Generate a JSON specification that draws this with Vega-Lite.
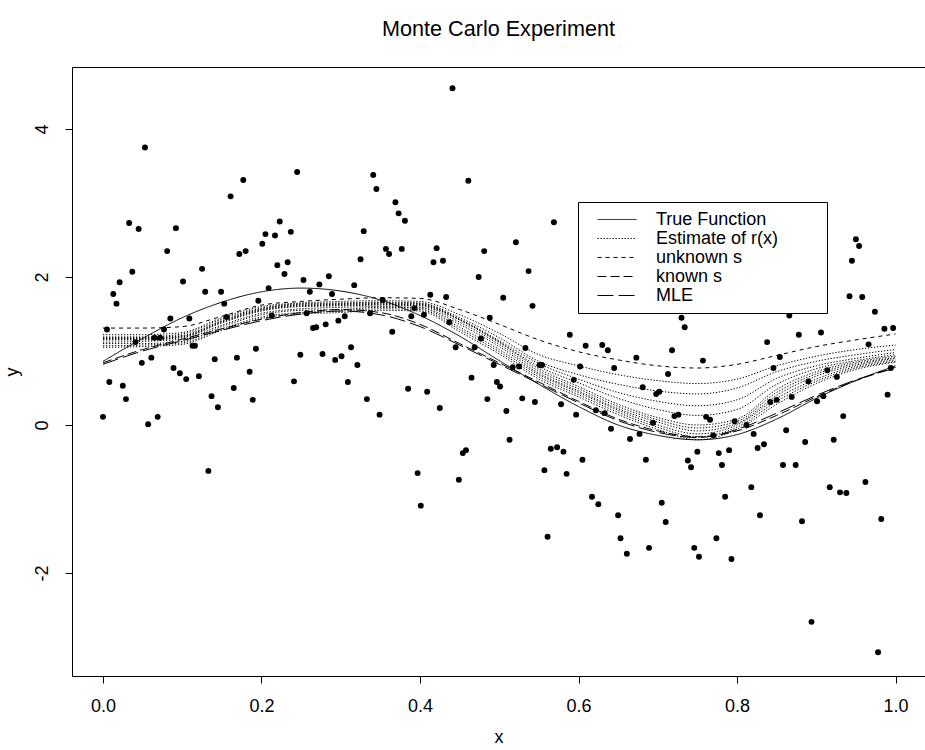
{
"$schema":"https://vega.github.io/schema/vega-lite/v6.json",
"width":853,"height":609,
"autosize":{"type":"none"},
"padding":{"left":72,"top":67,"right":0,"bottom":74},
"background":"white",
"title":{"text":"Monte Carlo Experiment","fontSize":21.6,"fontWeight":"normal","font":"Liberation Sans","color":"black","anchor":"middle","baseline":"alphabetic","offset":9},
"config":{
 "font":"Liberation Sans",
 "view":{"stroke":"black","strokeWidth":1},
 "axis":{"domain":false,"grid":false,"tickSize":7,"tickColor":"black","tickWidth":1,"labelFontSize":18,"labelColor":"black","labelFont":"Liberation Sans","titleFontSize":18,"titleFontWeight":"normal","titleColor":"black","titleFont":"Liberation Sans","labelFlush":false,"labelOverlap":false},
 "legend":{"orient":"none","legendX":506,"legendY":135,"strokeColor":"black","fillColor":"white","padding":8,"labelFontSize":18,"labelFont":"Liberation Sans","labelColor":"black","symbolType":"stroke","symbolSize":1521,"symbolStrokeWidth":1,"symbolStrokeColor":"black","clipHeight":19,"rowPadding":0,"labelOffset":19,"symbolOffset":11,"labelLimit":0}
},
"datasets":{
"lines":[
{"x":0,"tf":0.86,"T":1.31,"us":1.22,"D2":1.19,"D3":1.18,"D4":1.16,"B0":1.17,"B1":1.15,"B2":1.12,"B3":1.10,"B4":1.07,"B5":1.05,"ks":0.84,"mle":0.82},
{"x":0.05,"tf":1.17,"T":1.31,"us":1.22,"D2":1.19,"D3":1.18,"D4":1.16,"B0":1.17,"B1":1.15,"B2":1.13,"B3":1.10,"B4":1.08,"B5":1.06,"ks":1.02,"mle":1.00},
{"x":0.1,"tf":1.45,"T":1.33,"us":1.25,"D2":1.23,"D3":1.21,"D4":1.19,"B0":1.20,"B1":1.18,"B2":1.16,"B3":1.13,"B4":1.11,"B5":1.09,"ks":1.16,"mle":1.14},
{"x":0.15,"tf":1.66,"T":1.47,"us":1.45,"D2":1.43,"D3":1.41,"D4":1.39,"B0":1.40,"B1":1.38,"B2":1.35,"B3":1.33,"B4":1.30,"B5":1.28,"ks":1.30,"mle":1.28},
{"x":0.2,"tf":1.80,"T":1.62,"us":1.60,"D2":1.58,"D3":1.57,"D4":1.55,"B0":1.56,"B1":1.54,"B2":1.51,"B3":1.49,"B4":1.46,"B5":1.44,"ks":1.43,"mle":1.41},
{"x":0.25,"tf":1.85,"T":1.67,"us":1.65,"D2":1.64,"D3":1.63,"D4":1.61,"B0":1.62,"B1":1.60,"B2":1.57,"B3":1.55,"B4":1.52,"B5":1.50,"ks":1.52,"mle":1.50},
{"x":0.3,"tf":1.81,"T":1.70,"us":1.67,"D2":1.65,"D3":1.64,"D4":1.62,"B0":1.63,"B1":1.61,"B2":1.59,"B3":1.56,"B4":1.54,"B5":1.52,"ks":1.56,"mle":1.54},
{"x":0.35,"tf":1.69,"T":1.72,"us":1.68,"D2":1.66,"D3":1.65,"D4":1.63,"B0":1.64,"B1":1.62,"B2":1.60,"B3":1.59,"B4":1.57,"B5":1.55,"ks":1.52,"mle":1.49},
{"x":0.4,"tf":1.48,"T":1.71,"us":1.67,"D2":1.65,"D3":1.64,"D4":1.62,"B0":1.63,"B1":1.61,"B2":1.59,"B3":1.58,"B4":1.56,"B5":1.54,"ks":1.36,"mle":1.33},
{"x":0.45,"tf":1.20,"T":1.56,"us":1.49,"D2":1.45,"D3":1.43,"D4":1.42,"B0":1.42,"B1":1.39,"B2":1.36,"B3":1.32,"B4":1.29,"B5":1.26,"ks":1.10,"mle":1.08},
{"x":0.5,"tf":0.87,"T":1.36,"us":1.24,"D2":1.18,"D3":1.14,"D4":1.12,"B0":1.12,"B1":1.09,"B2":1.06,"B3":1.02,"B4":0.99,"B5":0.96,"ks":0.84,"mle":0.82},
{"x":0.55,"tf":0.55,"T":1.15,"us":0.95,"D2":0.86,"D3":0.83,"D4":0.79,"B0":0.76,"B1":0.73,"B2":0.70,"B3":0.68,"B4":0.65,"B5":0.62,"ks":0.58,"mle":0.56},
{"x":0.6,"tf":0.25,"T":0.99,"us":0.80,"D2":0.68,"D3":0.62,"D4":0.57,"B0":0.52,"B1":0.49,"B2":0.46,"B3":0.44,"B4":0.41,"B5":0.38,"ks":0.32,"mle":0.30},
{"x":0.65,"tf":0.00,"T":0.88,"us":0.68,"D2":0.55,"D3":0.44,"D4":0.36,"B0":0.28,"B1":0.25,"B2":0.22,"B3":0.20,"B4":0.17,"B5":0.14,"ks":0.08,"mle":0.06},
{"x":0.7,"tf":-0.14,"T":0.80,"us":0.60,"D2":0.46,"D3":0.32,"D4":0.21,"B0":0.10,"B1":0.07,"B2":0.04,"B3":0.00,"B4":-0.03,"B5":-0.06,"ks":-0.08,"mle":-0.10},
{"x":0.75,"tf":-0.20,"T":0.77,"us":0.56,"D2":0.42,"D3":0.26,"D4":0.13,"B0":0.00,"B1":-0.04,"B2":-0.08,"B3":-0.12,"B4":-0.16,"B5":-0.20,"ks":-0.16,"mle":-0.17},
{"x":0.8,"tf":-0.13,"T":0.82,"us":0.62,"D2":0.50,"D3":0.34,"D4":0.21,"B0":0.08,"B1":0.05,"B2":0.02,"B3":0.00,"B4":-0.03,"B5":-0.06,"ks":-0.08,"mle":-0.06},
{"x":0.85,"tf":0.08,"T":0.94,"us":0.80,"D2":0.72,"D3":0.63,"D4":0.55,"B0":0.48,"B1":0.44,"B2":0.40,"B3":0.36,"B4":0.32,"B5":0.28,"ks":0.13,"mle":0.16},
{"x":0.9,"tf":0.36,"T":1.06,"us":0.93,"D2":0.86,"D3":0.80,"D4":0.76,"B0":0.72,"B1":0.69,"B2":0.66,"B3":0.62,"B4":0.59,"B5":0.56,"ks":0.38,"mle":0.40},
{"x":0.95,"tf":0.60,"T":1.15,"us":1.02,"D2":0.95,"D3":0.90,"D4":0.87,"B0":0.85,"B1":0.83,"B2":0.81,"B3":0.79,"B4":0.77,"B5":0.75,"ks":0.60,"mle":0.61},
{"x":1,"tf":0.80,"T":1.23,"us":1.08,"D2":1.02,"D3":0.98,"D4":0.95,"B0":0.93,"B1":0.91,"B2":0.90,"B3":0.88,"B4":0.86,"B5":0.85,"ks":0.78,"mle":0.77}
],
"pts":[
{"x":0.053,"y":3.75},{"x":0.177,"y":3.31},{"x":0.161,"y":3.09},{"x":0.033,"y":2.73},{"x":0.045,"y":2.65},{"x":0.092,"y":2.66},{"x":0.223,"y":2.75},{"x":0.205,"y":2.58},{"x":0.217,"y":2.56},{"x":0.201,"y":2.45},{"x":0.081,"y":2.35},{"x":0.172,"y":2.31},{"x":0.180,"y":2.35},{"x":0.220,"y":2.16},{"x":0.037,"y":2.07},{"x":0.125,"y":2.11},{"x":0.021,"y":1.93},{"x":0.101,"y":1.94},{"x":0.013,"y":1.77},{"x":0.017,"y":1.64},{"x":0.129,"y":1.80},{"x":0.149,"y":1.80},{"x":0.153,"y":1.64},{"x":0.209,"y":1.85},{"x":0.196,"y":1.68},{"x":0.085,"y":1.44},{"x":0.109,"y":1.44},{"x":0.156,"y":1.46},{"x":0.213,"y":1.48},{"x":0.005,"y":1.29},{"x":0.077,"y":1.29},{"x":0.041,"y":1.12},{"x":0.065,"y":1.18},{"x":0.072,"y":1.18},{"x":0.113,"y":1.07},{"x":0.116,"y":1.07},{"x":0.193,"y":1.03},{"x":0.049,"y":0.84},{"x":0.061,"y":0.91},{"x":0.089,"y":0.77},{"x":0.141,"y":0.89},{"x":0.169,"y":0.91},
{"x":0.000,"y":0.11},{"x":0.008,"y":0.58},{"x":0.025,"y":0.53},{"x":0.029,"y":0.35},{"x":0.057,"y":0.01},{"x":0.069,"y":0.11},{"x":0.097,"y":0.70},{"x":0.105,"y":0.62},{"x":0.121,"y":0.66},{"x":0.137,"y":0.39},{"x":0.145,"y":0.24},{"x":0.133,"y":-0.62},{"x":0.165,"y":0.50},{"x":0.185,"y":0.72},{"x":0.189,"y":0.34},
{"x":0.441,"y":4.55},{"x":0.245,"y":3.42},{"x":0.341,"y":3.38},{"x":0.345,"y":3.19},{"x":0.461,"y":3.30},{"x":0.369,"y":3.01},{"x":0.373,"y":2.86},{"x":0.381,"y":2.76},{"x":0.237,"y":2.61},{"x":0.329,"y":2.62},{"x":0.233,"y":2.20},{"x":0.229,"y":2.04},{"x":0.357,"y":2.38},{"x":0.361,"y":2.31},{"x":0.377,"y":2.38},{"x":0.421,"y":2.39},{"x":0.417,"y":2.20},{"x":0.429,"y":2.22},{"x":0.481,"y":2.35},{"x":0.325,"y":2.24},{"x":0.474,"y":2.00},{"x":0.253,"y":1.96},{"x":0.285,"y":2.01},{"x":0.273,"y":1.90},{"x":0.317,"y":1.89},{"x":0.261,"y":1.80},{"x":0.289,"y":1.77},{"x":0.353,"y":1.69},{"x":0.413,"y":1.76},{"x":0.433,"y":1.73},{"x":0.257,"y":1.51},{"x":0.305,"y":1.47},{"x":0.297,"y":1.41},{"x":0.281,"y":1.36},{"x":0.265,"y":1.31},{"x":0.269,"y":1.32},{"x":0.337,"y":1.51},{"x":0.393,"y":1.58},{"x":0.389,"y":1.47},{"x":0.405,"y":1.49},{"x":0.437,"y":1.39},{"x":0.488,"y":1.45},{"x":0.365,"y":1.26},{"x":0.313,"y":1.05},{"x":0.445,"y":1.05},{"x":0.469,"y":1.05},{"x":0.477,"y":1.17},{"x":0.249,"y":0.95},{"x":0.277,"y":0.96},{"x":0.293,"y":0.88},{"x":0.301,"y":0.93},{"x":0.321,"y":0.81},
{"x":0.241,"y":0.59},{"x":0.309,"y":0.58},{"x":0.333,"y":0.35},{"x":0.349,"y":0.14},{"x":0.385,"y":0.49},{"x":0.409,"y":0.45},{"x":0.425,"y":0.23},{"x":0.465,"y":0.64},{"x":0.485,"y":0.35},{"x":0.454,"y":-0.38},{"x":0.458,"y":-0.34},{"x":0.397,"y":-0.65},{"x":0.449,"y":-0.74},{"x":0.401,"y":-1.09},
{"x":0.569,"y":2.74},{"x":0.521,"y":2.47},{"x":0.537,"y":2.08},{"x":0.505,"y":1.72},{"x":0.542,"y":1.61},{"x":0.589,"y":1.22},{"x":0.609,"y":1.07},{"x":0.630,"y":1.08},{"x":0.637,"y":1.01},{"x":0.673,"y":0.91},{"x":0.718,"y":1.01},{"x":0.730,"y":1.45},{"x":0.734,"y":1.32},{"x":0.533,"y":1.04},{"x":0.493,"y":0.81},{"x":0.517,"y":0.78},{"x":0.525,"y":0.79},{"x":0.551,"y":0.81},{"x":0.554,"y":0.81},{"x":0.602,"y":0.79},{"x":0.645,"y":0.77},
{"x":0.950,"y":2.51},{"x":0.954,"y":2.42},{"x":0.945,"y":2.22},{"x":0.942,"y":1.74},{"x":0.958,"y":1.73},{"x":0.974,"y":1.53},{"x":0.986,"y":1.30},{"x":0.997,"y":1.31},{"x":0.866,"y":1.48},{"x":0.838,"y":1.12},{"x":0.878,"y":1.22},{"x":0.906,"y":1.25},{"x":0.854,"y":0.92},{"x":0.966,"y":1.09},{"x":0.757,"y":0.87},{"x":0.846,"y":0.77},{"x":0.994,"y":0.77},
{"x":0.713,"y":0.69},{"x":0.497,"y":0.58},{"x":0.501,"y":0.52},{"x":0.529,"y":0.36},{"x":0.545,"y":0.31},{"x":0.578,"y":0.28},{"x":0.509,"y":0.19},{"x":0.594,"y":0.61},{"x":0.681,"y":0.51},{"x":0.698,"y":0.42},{"x":0.702,"y":0.45},{"x":0.622,"y":0.20},{"x":0.633,"y":0.16},{"x":0.597,"y":0.14},{"x":0.641,"y":-0.05},{"x":0.665,"y":-0.19},{"x":0.677,"y":-0.12},{"x":0.694,"y":0.03},{"x":0.721,"y":0.12},{"x":0.726,"y":0.14},{"x":0.513,"y":-0.20},{"x":0.565,"y":-0.32},{"x":0.573,"y":-0.30},{"x":0.581,"y":-0.36},{"x":0.605,"y":-0.47},{"x":0.685,"y":-0.47},{"x":0.557,"y":-0.61},{"x":0.585,"y":-0.66},{"x":0.738,"y":-0.48},{"x":0.742,"y":-0.57},{"x":0.750,"y":-0.36},{"x":0.617,"y":-0.97},{"x":0.625,"y":-1.07},{"x":0.650,"y":-1.22},{"x":0.705,"y":-1.05},{"x":0.710,"y":-1.31},{"x":0.561,"y":-1.51},{"x":0.653,"y":-1.53},{"x":0.661,"y":-1.74},{"x":0.689,"y":-1.66},{"x":0.746,"y":-1.66},{"x":0.752,"y":-1.78},
{"x":0.914,"y":0.74},{"x":0.926,"y":0.65},{"x":0.890,"y":0.59},{"x":0.990,"y":0.41},{"x":0.901,"y":0.32},{"x":0.909,"y":0.39},{"x":0.842,"y":0.31},{"x":0.850,"y":0.34},{"x":0.869,"y":0.38},{"x":0.761,"y":0.11},{"x":0.766,"y":0.07},{"x":0.797,"y":0.05},{"x":0.812,"y":0.00},{"x":0.770,"y":-0.14},{"x":0.934,"y":0.12},{"x":0.821,"y":-0.12},{"x":0.862,"y":-0.07},{"x":0.922,"y":-0.20},{"x":0.886,"y":-0.23},{"x":0.834,"y":-0.26},{"x":0.826,"y":-0.31},{"x":0.777,"y":-0.38},{"x":0.790,"y":-0.34},{"x":0.781,"y":-0.54},{"x":0.858,"y":-0.54},{"x":0.874,"y":-0.54},{"x":0.818,"y":-0.84},{"x":0.785,"y":-0.97},{"x":0.917,"y":-0.84},{"x":0.930,"y":-0.91},{"x":0.938,"y":-0.92},{"x":0.962,"y":-0.77},{"x":0.829,"y":-1.22},{"x":0.882,"y":-1.30},{"x":0.982,"y":-1.27},{"x":0.774,"y":-1.53},{"x":0.793,"y":-1.81},{"x":0.894,"y":-2.66},{"x":0.978,"y":-3.07}
]
},
"encoding":{
 "x":{"field":"x","type":"quantitative","scale":{"domain":[-0.0391,1.0372],"nice":false,"zero":false},
  "axis":{"values":[0,0.2,0.4,0.6,0.8,1],"labelExpr":"format(datum.value,'.1f')","labelPadding":14,"title":"x","titlePadding":13}},
 "y":{"type":"quantitative","scale":{"domain":[-3.392,4.838],"nice":false,"zero":false},
  "axis":{"values":[-2,0,2,4],"labelExpr":"'' + datum.value","labelAngle":-90,"labelAlign":"center","labelBaseline":"bottom","labelPadding":14,"title":"y","titlePadding":12}}
},
"layer":[
 {"data":{"name":"lines"},"transform":[{"fold":["us","D2","D3","D4","B0","B1","B2","B3","B4","B5"],"as":["key","value"]}],
  "mark":{"type":"line","color":"black","strokeWidth":1,"interpolate":"monotone"},
  "encoding":{"y":{"field":"value","type":"quantitative"},"detail":{"field":"key"},
   "strokeDash":{"datum":"Estimate of r(x)","type":"nominal","scale":{"domain":["True Function","Estimate of r(x)","unknown s","known s","MLE"],"range":[[1,0],[1.3,1.7],[4,4],[9,4],[16,5]]},
    "legend":{"title":"MMM","titleFontSize":13,"titleColor":"white","titleOrient":"right","titlePadding":8,"titleFont":"Liberation Sans"}}}},
 {"data":{"name":"lines"},
  "mark":{"type":"line","color":"black","strokeWidth":1,"interpolate":"monotone"},
  "encoding":{"y":{"field":"tf","type":"quantitative"},"strokeDash":{"datum":"True Function","type":"nominal"}}},
 {"data":{"name":"lines"},
  "mark":{"type":"line","color":"black","strokeWidth":1,"interpolate":"monotone"},
  "encoding":{"y":{"field":"T","type":"quantitative"},"strokeDash":{"datum":"unknown s","type":"nominal"}}},
 {"data":{"name":"lines"},
  "mark":{"type":"line","color":"black","strokeWidth":1,"interpolate":"monotone"},
  "encoding":{"y":{"field":"ks","type":"quantitative"},"strokeDash":{"datum":"known s","type":"nominal"}}},
 {"data":{"name":"lines"},
  "mark":{"type":"line","color":"black","strokeWidth":1,"interpolate":"monotone"},
  "encoding":{"y":{"field":"mle","type":"quantitative"},"strokeDash":{"datum":"MLE","type":"nominal"}}},
 {"data":{"name":"pts"},
  "mark":{"type":"circle","color":"black","size":35,"opacity":1},
  "encoding":{"y":{"field":"y","type":"quantitative"}}}
]
}
